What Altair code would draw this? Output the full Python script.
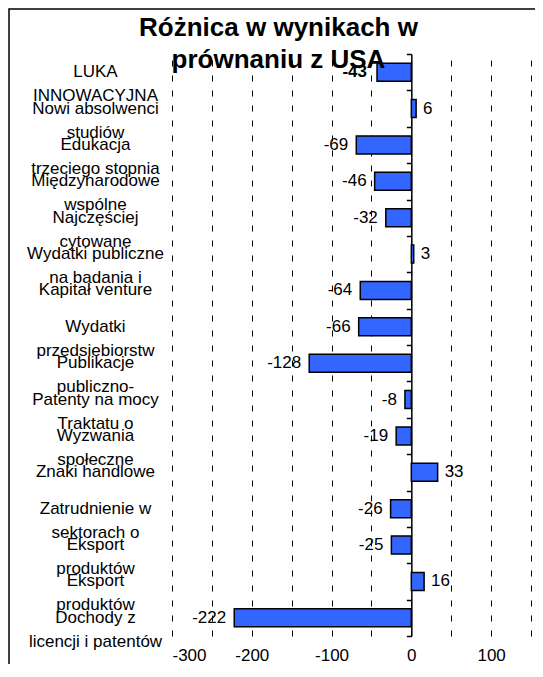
import json
import altair as alt
import pandas as pd

# ---- data ----
labels = [
    ["LUKA", "INNOWACYJNA"],
    ["Nowi absolwenci", "studiów"],
    ["Edukacja", "trzeciego stopnia"],
    ["Międzynarodowe", "wspólne"],
    ["Najczęściej", "cytowane"],
    ["Wydatki publiczne", "na badania i"],
    ["Kapitał venture"],
    ["Wydatki", "przedsiebiorstw"],
    ["Publikacje", "publiczno-"],
    ["Patenty na mocy", "Traktatu o"],
    ["Wyzwania", "społeczne"],
    ["Znaki handlowe"],
    ["Zatrudnienie w", "sektorach o"],
    ["Eksport", "produktów"],
    ["Eksport", "produktów"],
    ["Dochody z", "licencji i patentów"],
]
values = [-43, 6, -69, -46, -32, 3, -64, -66, -128, -8, -19, 33, -26, -25, 16, -222]
title_lines = ["Różnica w wynikach w", "prównaniu z USA"]
x_ticks = [-300, -250, -200, -150, -100, -50, 0, 50, 100, 150]

df = pd.DataFrame({"idx": list(range(len(values))), "value": values})

FONT = "Liberation Sans"
W, H = 359, 582
label_expr = json.dumps(labels, ensure_ascii=False) + "[datum.value]"

y_scale = alt.Scale(paddingInner=0, paddingOuter=0)
x_scale = alt.Scale(domain=[-300, 150], nice=False, zero=False)

x_axis = alt.Axis(
    title=None,
    values=x_ticks,
    domain=False,
    ticks=False,
    grid=True,
    gridColor="black",
    gridDash=[6, 9],
    gridWidth=1,
    labelExpr="datum.value % 100 == 0 ? '' + datum.value : ''",
    labelFontSize=17,
    labelFont=FONT,
    labelColor="black",
    labelPadding=11,
)
x_enc = alt.X("value:Q", scale=x_scale, axis=x_axis)

base = alt.Chart(df).transform_calculate(lbl="'' + datum.value")

bars = base.mark_bar(size=18, fill="#3366FF", stroke="black", strokeWidth=1.5).encode(
    y=alt.Y(
        "idx:O",
        scale=y_scale,
        sort=None,
        axis=alt.Axis(
            title=None,
            orient="left",
            domain=False,
            ticks=False,
            tickSize=0,
            grid=False,
            labelExpr=label_expr,
            labelAlign="center",
            labelBaseline="middle",
            labelPadding=77,
            labelLineHeight=24,
            labelFontSize=17,
            labelFont=FONT,
            labelColor="black",
            labelLimit=0,
            labelOverlap=False,
        ),
    ),
    x=x_enc,
)

# axis at zero with ticks between categories
zero_axis = base.mark_bar(opacity=0).encode(
    y=alt.Y(
        "idx:O",
        scale=y_scale,
        sort=None,
        axis=alt.Axis(
            title=None,
            orient="left",
            offset=-W * 300 / 450,
            domain=True,
            domainColor="black",
            domainWidth=1.5,
            ticks=True,
            tickSize=5,
            tickColor="black",
            tickWidth=1.5,
            tickBand="extent",
            labels=False,
            grid=False,
        ),
    ),
    x=x_enc,
)

txt_common = dict(fontSize=17, font=FONT, color="black", baseline="middle")

neg = base.transform_filter("datum.value < 0 && datum.idx > 0").mark_text(
    align="right", dx=-8, **txt_common
).encode(
    y=alt.Y("idx:O", scale=y_scale, sort=None, axis=None),
    x=x_enc,
    text="lbl:N",
)
pos = base.transform_filter("datum.value >= 0").mark_text(
    align="left", dx=7, **txt_common
).encode(
    y=alt.Y("idx:O", scale=y_scale, sort=None, axis=None),
    x=x_enc,
    text="lbl:N",
)
bold = base.transform_filter("datum.idx == 0").mark_text(
    align="right", dx=-10, fontWeight="bold", **txt_common
).encode(
    y=alt.Y("idx:O", scale=y_scale, sort=None, axis=None),
    x=x_enc,
    text="lbl:N",
)

frame = alt.Chart(alt.Data(values=[{}])).mark_rect(
    fillOpacity=0, stroke="black", strokeWidth=1.5
).encode(
    x=alt.value(-163), x2=alt.value(W + 100), y=alt.value(-45), y2=alt.value(H + 100)
)

chart = (
    alt.layer(frame, bars, zero_axis, neg, pos, bold)
    .resolve_axis(y="independent")
    .properties(
        width=W,
        height=H,
        autosize=alt.AutoSizeParams(type="none"),
        padding={"left": 164, "top": 46, "right": 4, "bottom": 28},
        title=alt.TitleParams(
            text=title_lines,
            fontSize=26,
            fontWeight="bold",
            font=FONT,
            color="black",
            anchor="middle",
            frame="group",
            dx=-73,
            dy=78,
            offset=0,
            baseline="middle",
            lineHeight=32,
        ),
    )
    .configure(background="white")
    .configure_view(stroke=None)
)

chart.save("out.html", embed_options={"renderer": "svg", "actions": False})
